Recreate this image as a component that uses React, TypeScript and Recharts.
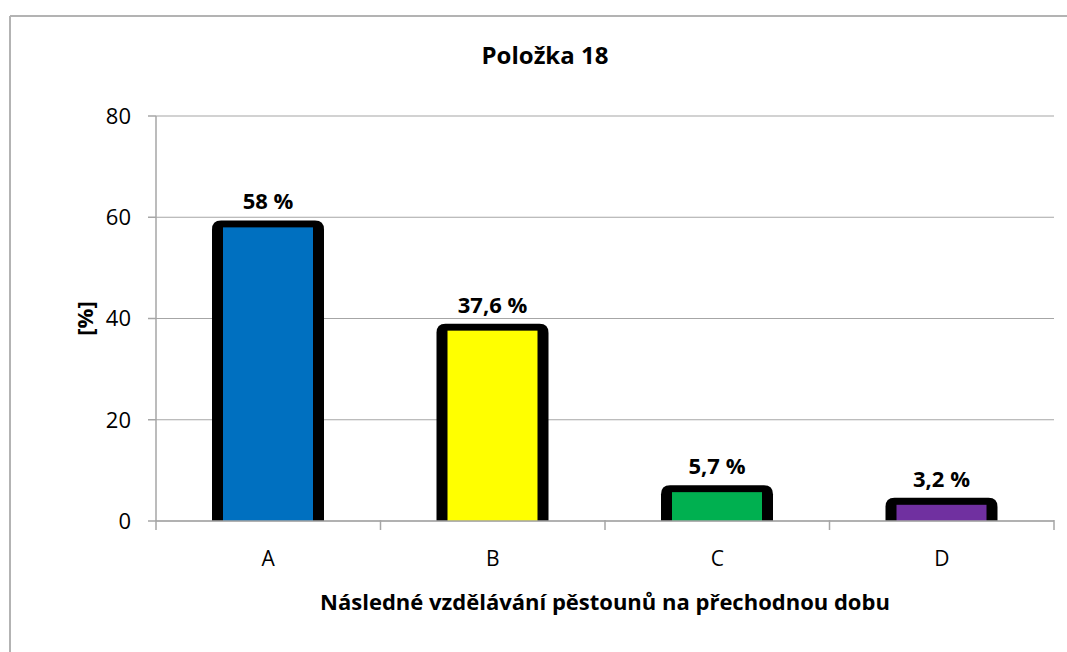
import React from 'react';
import { BarChart, Bar, XAxis, YAxis, CartesianGrid, Cell, LabelList, Label } from 'recharts';

const categories = ['A', 'B', 'C', 'D'];
const values = [58, 37.6, 5.7, 3.2];
const valueLabels = ['58 %', '37,6 %', '5,7 %', '3,2 %'];
const yTicks = [0, 20, 40, 60, 80];
const barColors = ['#0070C0', '#FFFF00', '#00B050', '#7030A0'];

const chartTitle = 'Položka 18';
const xTitle = 'Následné vzdělávání pěstounů na přechodnou dobu';
const yTitle = '[%]';

const data = categories.map((c, i) => ({ name: c, value: values[i], label: valueLabels[i] }));

const FONT = '"Open Sans", sans-serif';
const GRID = '#a6a6a6';

const BarShape = (props: any) => {
  const { x, y, width, height, fill } = props;
  if (width == null || height == null) return null;
  const side = 11;
  const top = 7;
  const r = 9;
  const x0 = x - side;
  const x1 = x + width + side;
  const y0 = y - top;
  const y1 = y + height;
  const d = `M${x0},${y1} L${x0},${y0 + r} Q${x0},${y0} ${x0 + r},${y0} L${x1 - r},${y0} Q${x1},${y0} ${x1},${y0 + r} L${x1},${y1} Z`;
  return (
    <g>
      <path d={d} fill="#000" />
      <rect x={x} y={y} width={width} height={height} fill={fill} />
    </g>
  );
};

const XTick = (props: any) => {
  const { x, y, payload, index, visibleTicksCount } = props;
  const half = payload && payload.offset ? payload.offset : 0;
  const axisY = y - 8;
  return (
    <g>
      <line x1={x - half} x2={x - half} y1={axisY - 1} y2={axisY + 9} stroke={GRID} strokeWidth={1.5} />
      {index === visibleTicksCount - 1 && (
        <line x1={x + half} x2={x + half} y1={axisY - 1} y2={axisY + 9} stroke={GRID} strokeWidth={1.5} />
      )}
      <text x={x} y={axisY + 45} textAnchor="middle" fontFamily={FONT} fontSize={21} fill="#000">
        {payload.value}
      </text>
    </g>
  );
};

const ValueLabel = (props: any) => {
  const { x, y, width, value } = props;
  return (
    <text x={x + width / 2} y={y - 18} textAnchor="middle" fontFamily={FONT} fontSize={22} fontWeight="bold" fill="#000">
      {value}
    </text>
  );
};

export default function App() {
  return (
    <div style={{ position: 'absolute', left: 0, top: 0, width: 1067, height: 652, background: '#fff' }}>
      <svg width={1067} height={652} style={{ position: 'absolute', left: 0, top: 0 }}>
        <line x1={10} y1={16} x2={1067} y2={16} stroke="#b3b3b3" strokeWidth={2} />
        <line x1={10} y1={16} x2={10} y2={652} stroke="#b3b3b3" strokeWidth={2} />
      </svg>
      <div
        style={{
          position: 'absolute',
          left: 395,
          top: 38,
          width: 300,
          textAlign: 'center',
          fontFamily: FONT,
          fontWeight: 'bold',
          fontSize: 24,
          lineHeight: '34px',
          color: '#000',
        }}
      >
        {chartTitle}
      </div>
      <div style={{ position: 'absolute', left: 0, top: 0 }}>
        <BarChart
          width={1067}
          height={652}
          data={data}
          margin={{ top: 116, right: 13, bottom: 101, left: 96 }}
          barSize={90}
        >
          <CartesianGrid vertical={false} stroke={GRID} strokeWidth={1.2} />
          <XAxis
            dataKey="name"
            stroke={GRID}
            strokeWidth={1.5}
            tickLine={false}
            tickSize={0}
            tickMargin={8}
            height={30}
            tick={<XTick />}
            interval={0}
          >
            <Label
              content={(p: any) => {
                const vb = p.viewBox || {};
                return (
                  <text
                    x={vb.x + vb.width / 2}
                    y={610}
                    textAnchor="middle"
                    fontFamily={FONT}
                    fontSize={22}
                    fontWeight="bold"
                    fill="#000"
                  >
                    {xTitle}
                  </text>
                );
              }}
            />
          </XAxis>
          <YAxis
            domain={[0, 80]}
            ticks={yTicks}
            width={60}
            stroke={GRID}
            strokeWidth={1.5}
            tickSize={8}
            tickMargin={17}
            tick={{ fill: '#000', fontFamily: FONT, fontSize: 22 }}
            interval={0}
          >
            <Label
              content={(p: any) => {
                const vb = p.viewBox || {};
                const cx = vb.x - 12;
                const cy = vb.y + vb.height / 2;
                return (
                  <text
                    x={cx}
                    y={cy}
                    transform={`rotate(-90 ${cx} ${cy})`}
                    textAnchor="middle"
                    dominantBaseline="central"
                    fontFamily={FONT}
                    fontSize={22}
                    fontWeight="bold"
                    fill="#000"
                  >
                    {yTitle}
                  </text>
                );
              }}
            />
          </YAxis>
          <Bar dataKey="value" shape={<BarShape />} isAnimationActive={false}>
            {data.map((d, i) => (
              <Cell key={d.name} fill={barColors[i]} />
            ))}
            <LabelList dataKey="label" content={<ValueLabel />} />
          </Bar>
        </BarChart>
      </div>
    </div>
  );
}
